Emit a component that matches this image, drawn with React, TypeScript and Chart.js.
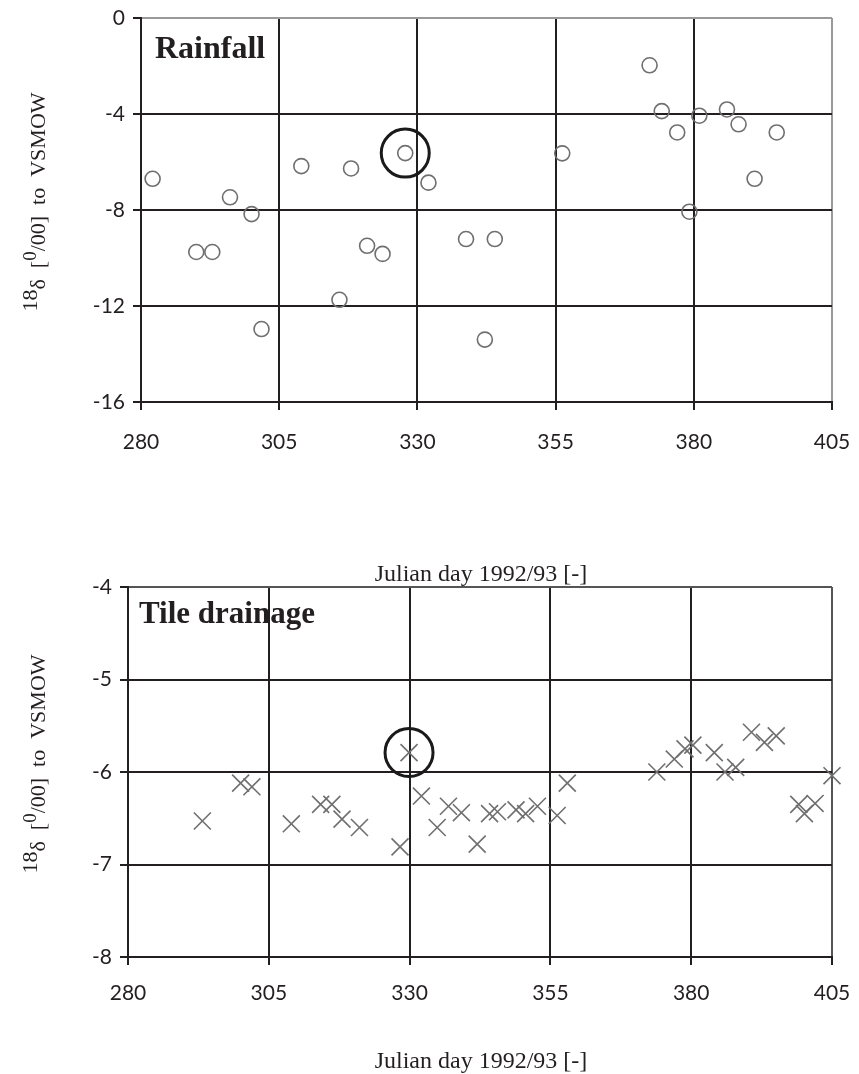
import React, { useEffect, useRef } from 'react';
import { Chart, registerables } from 'chart.js';

Chart.register(...registerables);

// ---------- data ----------
const xTicks = [280, 305, 330, 355, 380, 405];

const rainDays = [282.1, 290.0, 292.9, 296.1, 300.0, 301.8, 309.0, 315.9, 318.0, 320.9, 323.7, 327.8, 332.0, 338.8, 344.0, 342.2, 356.2, 372.0, 374.2, 377.0, 379.2, 381.0, 386.0, 388.1, 391.0, 395.0];
const rainDelta = [-6.70, -9.75, -9.75, -7.47, -8.17, -12.96, -6.17, -11.74, -6.27, -9.49, -9.83, -5.63, -6.86, -9.21, -9.21, -13.4, -5.64, -1.97, -3.88, -4.77, -8.07, -4.07, -3.81, -4.43, -6.70, -4.77];
const rainHighlight = 11;
const rainYTicks = [-16, -12, -8, -4, 0];

const drainDays = [293.2, 300.0, 302.0, 309.0, 314.2, 316.2, 318.0, 321.1, 328.3, 329.9, 332.1, 334.9, 336.9, 339.2, 342.0, 344.2, 345.6, 348.9, 350.6, 352.7, 356.2, 358.0, 373.9, 377.0, 378.9, 380.3, 384.1, 386.0, 387.9, 390.7, 393.0, 395.1, 399.1, 400.1, 402.0, 405.0];
const drainDelta = [-6.53, -6.12, -6.16, -6.56, -6.35, -6.35, -6.51, -6.60, -6.81, -5.79, -6.26, -6.60, -6.37, -6.44, -6.78, -6.45, -6.43, -6.41, -6.45, -6.37, -6.47, -6.12, -6.00, -5.86, -5.75, -5.71, -5.79, -6.00, -5.95, -5.57, -5.68, -5.61, -6.35, -6.45, -6.34, -6.04];
const drainHighlight = 9;
const drainYTicks = [-8, -7, -6, -5, -4];

const xTitle = 'Julian day 1992/93 [-]';
const yTitleParts = ['18', 'δ', '  [', '0', '/00]', '  to  ', 'VSMOW'];

// ---------- plugin ----------
const decorPlugin = {
  id: 'decor',
  afterDraw(chart: any, _args: any, opts: any) {
    const { ctx, chartArea } = chart;
    ctx.save();
    ctx.fillStyle = '#231f20';
    // panel label
    ctx.font = opts.labelFont;
    ctx.textAlign = 'left';
    ctx.textBaseline = 'alphabetic';
    ctx.fillText(opts.label, chartArea.left + opts.labelDx, chartArea.top + opts.labelDy);
    // x title
    ctx.font = opts.xFont;
    ctx.textAlign = 'center';
    ctx.textBaseline = 'middle';
    ctx.fillText(opts.xTitle, opts.xTitleX, opts.xTitleY);
    // y title (rotated, mixed baselines)
    const sizes = opts.ySizes;
    const shifts = opts.yShifts;
    const fam = opts.yFamily;
    let total = 0;
    const widths: number[] = [];
    opts.yParts.forEach((t: string, i: number) => {
      ctx.font = `${sizes[i]}px ${fam}`;
      const w = ctx.measureText(t).width;
      widths.push(w);
      total += w;
    });
    const cy = (chartArea.top + chartArea.bottom) / 2 + opts.yCenterShift;
    ctx.translate(opts.yBaseX, cy);
    ctx.rotate(-Math.PI / 2);
    ctx.textAlign = 'left';
    ctx.textBaseline = 'alphabetic';
    let x = -total / 2;
    opts.yParts.forEach((t: string, i: number) => {
      ctx.font = `${sizes[i]}px ${fam}`;
      ctx.fillText(t, x, shifts[i]);
      x += widths[i];
    });
    ctx.restore();
  },
};

type Spec = {
  days: number[];
  vals: number[];
  hi: number;
  yTicks: number[];
  pointStyle: string;
  pointRadius: number;
  edgeColor: string;
  label: string;
  labelSize: number;
  labelDx: number;
  labelDy: number;
  padTop: number;
  padRight: number;
  yWidth: number;
  xHeight: number;
  xTickPad: number;
  xTitleY: number;
};

function makeConfig(s: Spec): any {
  const yMin = s.yTicks[0];
  const yMax = s.yTicks[s.yTicks.length - 1];
  const xMin = xTicks[0];
  const xMax = xTicks[xTicks.length - 1];
  const tickFont = { family: 'Lato', size: 21 };
  return {
    type: 'scatter',
    data: {
      datasets: [
        {
          data: s.days.map((d, i) => ({ x: d, y: s.vals[i] })),
          pointStyle: s.pointStyle,
          pointRadius: s.pointRadius,
          borderWidth: 1.6,
          borderColor: '#6f6f6f',
          backgroundColor: 'rgba(0,0,0,0)',
          clip: false,
        },
        {
          data: [{ x: s.days[s.hi], y: s.vals[s.hi] }],
          pointStyle: 'circle',
          pointRadius: 24,
          borderWidth: 3,
          borderColor: '#1a1a1a',
          backgroundColor: 'rgba(0,0,0,0)',
          clip: false,
        },
      ],
    },
    options: {
      animation: false,
      responsive: false,
      devicePixelRatio: 1,
      events: [],
      layout: { padding: { left: 0, top: s.padTop, right: s.padRight, bottom: 0 } },
      plugins: {
        legend: { display: false },
        tooltip: { enabled: false },
        decor: {
          label: s.label,
          labelFont: `bold ${s.labelSize}px "Liberation Serif"`,
          labelDx: s.labelDx,
          labelDy: s.labelDy,
          xTitle,
          xFont: '24px "Liberation Serif"',
          xTitleX: 481,
          xTitleY: s.xTitleY,
          yParts: yTitleParts,
          ySizes: [22, 22, 22, 19, 22, 22, 22],
          yShifts: [-8, 0, 0, -9, 0, 0, 0],
          yFamily: '"Liberation Serif"',
          yBaseX: 45,
          yCenterShift: -8,
        },
      },
      scales: {
        x: {
          type: 'linear',
          min: xMin,
          max: xMax,
          afterBuildTicks: (sc: any) => {
            sc.ticks = xTicks.map((v) => ({ value: v }));
          },
          afterFit: (sc: any) => {
            sc.height = s.xHeight;
            sc.paddingLeft = 0;
            sc.paddingRight = 0;
          },
          ticks: {
            font: tickFont,
            color: '#231f20',
            padding: s.xTickPad,
            maxRotation: 0,
            autoSkip: false,
            callback: (v: any) => String(v),
          },
          grid: {
            color: (c: any) => (c.tick && c.tick.value === xMax ? s.edgeColor : '#231f20'),
            lineWidth: 2,
            tickLength: 8,
            tickColor: '#231f20',
            tickWidth: 2,
          },
          border: { color: '#231f20', width: 2 },
        },
        y: {
          type: 'linear',
          min: yMin,
          max: yMax,
          afterBuildTicks: (sc: any) => {
            sc.ticks = s.yTicks.map((v) => ({ value: v }));
          },
          afterFit: (sc: any) => {
            sc.width = s.yWidth;
            sc.paddingTop = 0;
            sc.paddingBottom = 0;
          },
          ticks: {
            font: tickFont,
            color: '#231f20',
            padding: 8,
            autoSkip: false,
            callback: (v: any) => String(v),
          },
          grid: {
            color: (c: any) => (c.tick && c.tick.value === yMax ? s.edgeColor : '#231f20'),
            lineWidth: 2,
            tickLength: 8,
            tickColor: '#231f20',
            tickWidth: 2,
          },
          border: { color: '#231f20', width: 2 },
        },
      },
    },
    plugins: [decorPlugin],
  };
}

function ChartCanvas({ spec, top, height }: { spec: Spec; top: number; height: number }) {
  const ref = useRef<HTMLCanvasElement | null>(null);
  useEffect(() => {
    if (!ref.current) return;
    const chart = new Chart(ref.current, makeConfig(spec));
    return () => chart.destroy();
  }, [spec]);
  return (
    <canvas
      ref={ref}
      width={859}
      height={height}
      style={{ position: 'absolute', left: 0, top, width: 859, height }}
    />
  );
}

const rainSpec: Spec = {
  days: rainDays,
  vals: rainDelta,
  hi: rainHighlight,
  yTicks: rainYTicks,
  pointStyle: 'circle',
  pointRadius: 7.5,
  edgeColor: '#9a9a9a',
  label: 'Rainfall',
  labelSize: 32,
  labelDx: 14,
  labelDy: 40,
  padTop: 18,
  padRight: 21,
  yWidth: 141,
  xHeight: 198,
  xTickPad: 20,
  xTitleY: 584,
};

const drainSpec: Spec = {
  days: drainDays,
  vals: drainDelta,
  hi: drainHighlight,
  yTicks: drainYTicks,
  pointStyle: 'crossRot',
  pointRadius: 12,
  edgeColor: '#555555',
  label: 'Tile drainage',
  labelSize: 31,
  labelDx: 11,
  labelDy: 36,
  padTop: 26,
  padRight: 23,
  yWidth: 128,
  xHeight: 117,
  xTickPad: 16,
  xTitleY: 502,
};

export default function App() {
  return (
    <div style={{ position: 'absolute', left: 0, top: 0, width: 859, height: 1074, background: '#fff', overflow: 'hidden' }}>
      <ChartCanvas spec={rainSpec} top={-9} height={609} />
      <ChartCanvas spec={drainSpec} top={560} height={514} />
    </div>
  );
}
